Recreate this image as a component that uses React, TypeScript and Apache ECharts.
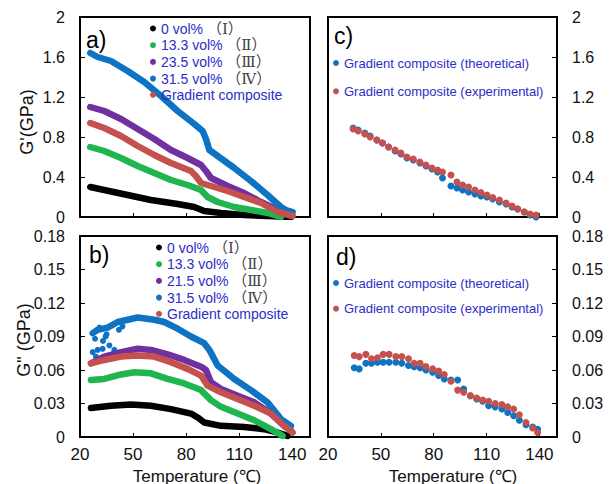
import { useEffect, useRef } from 'react';
import * as echarts from 'echarts';

// ---------- shared axis values ----------
const X_START = 20; // temperature axis starts at 20 ℃
const X_END = 150;
const tempTicks = [20, 50, 80, 110, 140];

// ---------- (a) G' (GPa) vs temperature ----------
const aTempI = [25.8, 33.7, 46.9, 60.1, 75.2, 84.6, 90.2, 99.7, 112.8, 126, 139.2];
const aValI = [0.30, 0.27, 0.22, 0.17, 0.13, 0.10, 0.06, 0.04, 0.02, 0.01, 0.0];
const aTempII = [25.8, 33.7, 43.2, 52.6, 62, 71.4, 80.8, 88.4, 92.1, 97.8, 107.2, 116.6, 126, 133.6];
const aValII = [0.70, 0.66, 0.59, 0.51, 0.44, 0.37, 0.32, 0.27, 0.20, 0.15, 0.10, 0.07, 0.04, 0.0];
const aTempIII = [25.8, 33.7, 43.2, 52.6, 62, 71.4, 80.8, 88.4, 91.2, 94, 103.4, 112.8, 122.3, 131.7, 139.2];
const aValIII = [1.10, 1.06, 0.98, 0.88, 0.78, 0.67, 0.59, 0.52, 0.46, 0.39, 0.31, 0.24, 0.15, 0.07, 0.03];
const aTempIV = [25.8, 30, 37.5, 46.9, 56.3, 65.8, 75.2, 84.6, 89.3, 91.2, 93.1, 97.8, 107.2, 116.6, 126, 133.6, 136.4, 140.2];
const aValIV = [1.64, 1.60, 1.56, 1.46, 1.35, 1.21, 1.06, 0.93, 0.86, 0.78, 0.67, 0.61, 0.49, 0.36, 0.22, 0.10, 0.07, 0.05];
const aTempGrad = [25.8, 33.7, 43.2, 52.6, 62, 71.4, 82.7, 85.5, 88.4, 94, 103.4, 112.8, 122.3, 131.7, 140.2];
const aValGrad = [0.94, 0.89, 0.81, 0.71, 0.62, 0.54, 0.46, 0.41, 0.34, 0.31, 0.26, 0.20, 0.14, 0.05, 0.01];

// ---------- (b) G" (GPa) vs temperature ----------
const bTempI = [26.2, 37.5, 48.8, 60.1, 71.4, 82.7, 87, 90.2, 99.7, 112.8, 124.1, 131.7, 137.3];
const bValI = [0.026, 0.028, 0.029, 0.028, 0.025, 0.021, 0.017, 0.013, 0.010, 0.009, 0.007, 0.004, 0.001];
const bTempII = [26.2, 33.7, 43.2, 50.7, 60.1, 69.5, 78.9, 88.4, 94, 99.7, 109.1, 118.5, 127.9, 134.5];
const bValII = [0.051, 0.052, 0.056, 0.058, 0.057, 0.052, 0.048, 0.042, 0.033, 0.027, 0.021, 0.015, 0.007, 0.001];
const bTempIII = [26.2, 33.7, 43.2, 52.6, 60.1, 69.5, 78.9, 88.4, 91.2, 94, 99.7, 109.1, 118.5, 127.9, 135.4, 139.2];
const bValIII = [0.066, 0.072, 0.076, 0.079, 0.078, 0.074, 0.069, 0.063, 0.060, 0.049, 0.043, 0.037, 0.031, 0.021, 0.010, 0.006];
const bTempIV = [27.2, 30, 35.6, 41.3, 46.9, 52.6, 62, 67.6, 75.2, 82.7, 90.2, 93.1, 97.8, 107.2, 116.6, 126, 133.6, 139.2];
const bValIV = [0.093, 0.096, 0.098, 0.103, 0.105, 0.107, 0.105, 0.103, 0.097, 0.090, 0.084, 0.078, 0.064, 0.052, 0.042, 0.031, 0.016, 0.010];
const bTempIVScatter = [27.2, 28.5, 30, 32.8, 34.5, 36.6, 39.4, 31, 35, 38, 42, 29, 33, 44];
const bValIVScatter = [0.076, 0.088, 0.078, 0.079, 0.090, 0.082, 0.078, 0.098, 0.092, 0.100, 0.096, 0.072, 0.086, 0.099];
const bTempGrad = [26.2, 33.7, 43.2, 52.6, 62, 71.4, 80.8, 88.4, 92.1, 99.7, 109.1, 118.5, 127.9, 135.4, 140.2];
const bValGrad = [0.066, 0.069, 0.072, 0.073, 0.072, 0.067, 0.061, 0.055, 0.046, 0.040, 0.034, 0.028, 0.021, 0.010, 0.004];

// ---------- (c) G' theoretical vs experimental ----------
const cTemp = [34.3, 37.1, 40.9, 43.9, 47.7, 50.9, 54.4, 58.1, 61.4, 64.8, 68.4, 72.2, 75.6, 79, 82.2, 85, 89.8, 93.2, 96.4, 99.8, 103.4, 106.8, 110.2, 113.5, 117.3, 121.1, 124.5, 127.7, 131.4, 134.7, 138.1];
const cTheo = [0.89, 0.87, 0.84, 0.81, 0.77, 0.74, 0.70, 0.66, 0.63, 0.59, 0.57, 0.54, 0.51, 0.48, 0.45, 0.39, 0.31, 0.29, 0.27, 0.25, 0.23, 0.21, 0.20, 0.18, 0.15, 0.13, 0.10, 0.08, 0.05, 0.02, 0.0];
const cExp = [0.88, 0.86, 0.83, 0.80, 0.77, 0.74, 0.70, 0.67, 0.64, 0.60, 0.58, 0.55, 0.52, 0.49, 0.47, 0.45, 0.42, 0.35, 0.32, 0.30, 0.27, 0.245, 0.22, 0.195, 0.17, 0.14, 0.11, 0.08, 0.05, 0.03, 0.02];

// ---------- (d) G" theoretical vs experimental ----------
const dTemp = [34.9, 37.7, 41.5, 44.7, 48.1, 51.3, 54.7, 58.5, 61.9, 65.7, 68.9, 72.3, 75.6, 79.4, 82.8, 86, 89.8, 93.6, 97, 100.8, 104.4, 107.8, 111.2, 114.9, 118.7, 122, 125.4, 128.6, 132.4, 136.2, 139];
const dTheo = [0.062, 0.061, 0.066, 0.066, 0.067, 0.067, 0.067, 0.067, 0.066, 0.064, 0.063, 0.062, 0.060, 0.058, 0.055, 0.052, 0.051, 0.051, 0.043, 0.037, 0.034, 0.032, 0.028, 0.027, 0.025, 0.022, 0.019, 0.015, 0.011, 0.009, 0.007];
const dExp = [0.073, 0.072, 0.074, 0.070, 0.071, 0.074, 0.074, 0.072, 0.072, 0.070, 0.066, 0.066, 0.063, 0.061, 0.059, 0.056, 0.050, 0.042, 0.040, 0.037, 0.035, 0.033, 0.032, 0.030, 0.029, 0.027, 0.025, 0.020, 0.013, 0.008, 0.004];

// ---------- names ----------
const nI = '0 vol% （Ⅰ）';
const nII = '13.3 vol% （Ⅱ）';
const nIIIa = '23.5 vol% （Ⅲ）';
const nIIIb = '21.5 vol% （Ⅲ）';
const nIV = '31.5 vol% （Ⅳ）';
const nGrad = 'Gradient composite';
const nTheo = 'Gradient composite (theoretical)';
const nExp = 'Gradient composite (experimental)';

const COL = {
  black: '#000000',
  green: '#1fb54f',
  purple: '#7030a0',
  blue: '#0f73c3',
  red: '#c4514e',
  text: '#2d2dc8',
};

const FONT = '"Liberation Sans", Arial, sans-serif';
const SERIF = '"Liberation Serif", "DejaVu Serif", "Noto Sans CJK SC", serif';

const pairs = (t: number[], v: number[]) => t.map((x, i) => [x - X_START, v[i]]);

const GRIDS = [
  { left: 80, top: 17, width: 230, height: 200 },
  { left: 80, top: 236, width: 230, height: 201 },
  { left: 328, top: 17, width: 229, height: 200 },
  { left: 328, top: 236, width: 229, height: 201 },
];

function xAxis(gridIndex: number, showLabels: boolean) {
  return {
    type: 'value',
    gridIndex,
    min: 0,
    max: X_END - X_START,
    interval: 30,
    axisLine: { show: true, onZero: false, lineStyle: { color: '#000', width: 2 } },
    axisTick: { show: true, inside: true, length: 4, lineStyle: { color: '#000', width: 1 } },
    axisLabel: {
      show: showLabels,
      fontSize: 17,
      color: '#111',
      fontFamily: FONT,
      margin: 9,
      formatter: (v: number) => (tempTicks.includes(v + X_START) ? String(v + X_START) : ''),
    },
    splitLine: { show: false },
  };
}

function yAxis(gridIndex: number, max: number, interval: number, position: string) {
  return {
    type: 'value',
    gridIndex,
    min: 0,
    max,
    interval,
    position,
    axisLine: { show: true, onZero: false, lineStyle: { color: '#000', width: 2 } },
    axisTick: { show: true, inside: true, length: 5, lineStyle: { color: '#000', width: 1 } },
    axisLabel: {
      fontSize: 16,
      color: '#111',
      fontFamily: FONT,
      margin: 15,
      formatter: (v: number) => String(parseFloat(v.toFixed(2))),
    },
    splitLine: { show: false },
  };
}

function lineSeries(name: string, color: string, t: number[], v: number[], grid: number) {
  return {
    type: 'line',
    name,
    xAxisIndex: grid,
    yAxisIndex: grid,
    data: pairs(t, v),
    showSymbol: false,
    symbol: 'circle',
    itemStyle: { color },
    lineStyle: { color, width: 6.5, cap: 'round', join: 'round' },
  };
}

function scatterSeries(name: string, color: string, t: number[], v: number[], grid: number, size = 7) {
  return {
    type: 'scatter',
    name,
    xAxisIndex: grid,
    yAxisIndex: grid,
    data: pairs(t, v),
    symbol: 'circle',
    symbolSize: size,
    itemStyle: { color, opacity: 1 },
  };
}

const legendFormatter = (name: string) => {
  const i = name.indexOf('（');
  if (i < 0) return `{t|${name}}`;
  return `{t|${name.slice(0, i)}}{r|${name.slice(i)}}`;
};

function legend(data: string[], left: number, top: number, gap: number, fontSize: number, iconSize: number) {
  return {
    orient: 'vertical',
    left,
    top,
    padding: 0,
    itemGap: gap,
    itemWidth: iconSize,
    itemHeight: iconSize,
    icon: 'circle',
    selectedMode: false,
    data,
    formatter: legendFormatter,
    textStyle: {
      fontFamily: FONT,
      fontSize,
      lineHeight: 14,
      color: COL.text,
      rich: {
        t: { fontFamily: FONT, fontSize, color: COL.text, lineHeight: 14 },
        r: { fontFamily: SERIF, fontSize: fontSize + 1, color: '#444', lineHeight: 14 },
      },
    },
  };
}

function label(text: string, x: number, y: number) {
  return {
    type: 'text',
    x,
    y,
    style: { text, fontFamily: FONT, fontSize: 23, fill: '#000', textAlign: 'left', textVerticalAlign: 'middle' },
  };
}

function axisName(text: string, x: number, y: number, rotate: boolean) {
  return {
    type: 'text',
    x,
    y,
    rotation: rotate ? Math.PI / 2 : 0,
    style: { text, fontFamily: FONT, fontSize: rotate ? 18 : 17, fill: '#111', textAlign: 'center', textVerticalAlign: 'middle' },
  };
}

const option = {
  animation: false,
  backgroundColor: '#ffffff',
  grid: GRIDS.map((g) => ({ ...g, show: true, borderColor: '#000', borderWidth: 2, backgroundColor: 'transparent' })),
  xAxis: [xAxis(0, false), xAxis(1, true), xAxis(2, false), xAxis(3, true)],
  yAxis: [
    yAxis(0, 2, 0.4, 'left'),
    yAxis(1, 0.18, 0.03, 'left'),
    yAxis(2, 2, 0.4, 'right'),
    yAxis(3, 0.18, 0.03, 'right'),
  ],
  legend: [
    legend([nI, nII, nIIIa, nIV, nGrad], 150, 21, 1.7, 14, 6),
    legend([nI, nII, nIIIb, nIV, nGrad], 156, 240, 1.7, 14, 6),
    legend([nTheo, nExp], 333, 56, 14.3, 13, 6),
    legend([nTheo, nExp], 333, 276, 11.7, 13, 6),
  ],
  series: [
    lineSeries(nI, COL.black, aTempI, aValI, 0),
    lineSeries(nII, COL.green, aTempII, aValII, 0),
    lineSeries(nIIIa, COL.purple, aTempIII, aValIII, 0),
    lineSeries(nIV, COL.blue, aTempIV, aValIV, 0),
    lineSeries(nGrad, COL.red, aTempGrad, aValGrad, 0),

    lineSeries(nI, COL.black, bTempI, bValI, 1),
    lineSeries(nII, COL.green, bTempII, bValII, 1),
    lineSeries(nIIIb, COL.purple, bTempIII, bValIII, 1),
    scatterSeries('31.5 vol% scatter', COL.blue, bTempIVScatter, bValIVScatter, 1, 6),
    lineSeries(nIV, COL.blue, bTempIV, bValIV, 1),
    lineSeries(nGrad, COL.red, bTempGrad, bValGrad, 1),

    scatterSeries(nTheo, COL.blue, cTemp, cTheo, 2),
    scatterSeries(nExp, COL.red, cTemp, cExp, 2),
    scatterSeries(nTheo, COL.blue, dTemp, dTheo, 3),
    scatterSeries(nExp, COL.red, dTemp, dExp, 3),
  ],
  graphic: [
    label('a)', 86, 40),
    label('b)', 89, 255),
    label('c)', 334, 36),
    label('d)', 336, 257),
    axisName("G'(GPa)", 27, 122, true),
    axisName('G" (GPa)', 24, 340, true),
    axisName('Temperature (℃)', 197, 476, false),
    axisName('Temperature (℃)', 453, 476, false),
  ],
};

export default function App() {
  const ref = useRef<HTMLDivElement>(null);
  useEffect(() => {
    if (!ref.current) return;
    const chart = echarts.init(ref.current, null, { renderer: 'svg' });
    chart.setOption(option as any);
    return () => chart.dispose();
  }, []);
  return (
    <div
      ref={ref}
      style={{ position: 'absolute', left: 0, top: 0, width: 611, height: 484, background: '#fff' }}
    />
  );
}
